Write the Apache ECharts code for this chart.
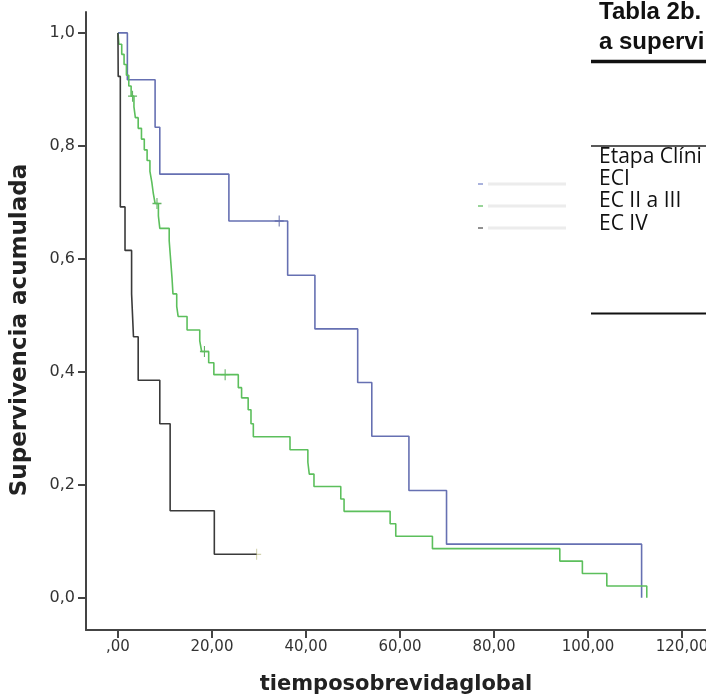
<!DOCTYPE html>
<html>
<head>
<meta charset="utf-8">
<script src="https://cdn.jsdelivr.net/npm/echarts@6/dist/echarts.min.js"></script>
<style>
  html, body { margin: 0; padding: 0; background: #fff; }
  #chart { width: 706px; height: 698px; }
</style>
</head>
<body>
<div id="chart"></div>
<script>
// tick labels
var xTicks = [0, 20, 40, 60, 80, 100, 120];
var yTicks = [0, 0.2, 0.4, 0.6, 0.8, 1.0];

// ECI
var ec1Time = [0, 2.0, 7.9, 8.9, 23.6, 36.1, 41.9, 51.0, 54.0, 61.9, 69.9, 111.4];
var ec1Surv = [1.0, 0.917, 0.833, 0.750, 0.667, 0.571, 0.476, 0.381, 0.286, 0.190, 0.095, 0.0];
var ec1CensorTime = [34.3];
var ec1CensorSurv = [0.667];

// EC II a III
var ec2Time = [0, 0.2, 0.8, 1.3, 1.8, 2.3, 2.8, 3.4, 3.7, 4.3, 5.0, 5.6, 6.2, 6.8, 7.2, 7.5, 7.9,
  8.6, 8.9, 10.9, 11.1, 11.3, 11.5, 11.7, 12.5, 12.8, 14.7, 17.4, 17.8, 19.3, 20.4, 25.6, 26.3,
  27.7, 28.3, 28.8, 36.6, 40.4, 40.7, 41.7, 47.4, 48.1, 57.9, 59.1, 66.9, 94.0, 98.8, 104.0, 112.5];
var ec2Surv = [1.0, 0.980, 0.962, 0.944, 0.925, 0.906, 0.888, 0.869, 0.850, 0.831, 0.812, 0.793, 0.774, 0.755, 0.736, 0.717, 0.698,
  0.676, 0.654, 0.632, 0.610, 0.588, 0.566, 0.538, 0.516, 0.498, 0.474, 0.455, 0.436, 0.416, 0.395, 0.372, 0.354,
  0.333, 0.308, 0.285, 0.262, 0.240, 0.219, 0.197, 0.175, 0.153, 0.131, 0.109, 0.087, 0.065, 0.043, 0.021, 0.0];
var ec2CensorTime = [3.1, 8.3, 18.4, 22.8];
var ec2CensorSurv = [0.888, 0.698, 0.436, 0.395];

// EC IV
var ec4Time = [0, 0.05, 0.5, 1.5, 2.9, 3.3, 4.3, 8.9, 11.1, 20.5, 29.5];
var ec4Surv = [1.0, 0.923, 0.692, 0.615, 0.538, 0.462, 0.385, 0.308, 0.154, 0.077, 0.077];
var ec4CensorTime = [29.5];
var ec4CensorSurv = [0.077];

function pairs(t, s) {
  var out = [];
  for (var i = 0; i < t.length; i++) out.push([t[i], s[i]]);
  return out;
}

var plus = 'path://M-0.12,-1H0.12V-0.12H1V0.12H0.12V1H-0.12V0.12H-1V-0.12H-0.12Z';

function kmLine(name, t, s, color) {
  return {
    name: name, type: 'line', step: 'end', data: pairs(t, s),
    showSymbol: false, silent: true, animation: false,
    lineStyle: { color: color, width: 1.6 }
  };
}
function censor(name, t, s, color) {
  return {
    name: name, type: 'scatter', data: pairs(t, s),
    symbol: plus, symbolSize: [9, 11], silent: true, animation: false,
    itemStyle: { color: color }
  };
}

var chart = echarts.init(document.getElementById('chart'));

var fmtX = function (v) {
  var s = v.toFixed(2).replace('.', ',');
  return v === 0 ? ',00' : s;
};
var fmtY = function (v) { return v.toFixed(1).replace('.', ','); };

chart.setOption({
  animation: false,
  grid: { left: 86, right: 0, top: 12, bottom: 68, outerBoundsMode: 'none', containLabel: false },
  xAxis: {
    type: 'value', min: -6.8, max: 125.1,
    name: 'tiemposobrevidaglobal', nameLocation: 'middle', nameGap: 44,
    nameTextStyle: { fontFamily: 'DejaVu Sans', fontWeight: 'bold', fontSize: 21, color: '#222' },
    axisLine: { show: true, onZero: false, lineStyle: { color: '#444', width: 2 } },
    axisTick: { show: true, length: 8, customValues: xTicks, lineStyle: { color: '#444', width: 2 } },
    axisLabel: { customValues: xTicks, formatter: fmtX, fontFamily: 'DejaVu Sans', fontSize: 15, color: '#333', margin: 10 },
    splitLine: { show: false }
  },
  yAxis: {
    type: 'value', min: -0.057, max: 1.037,
    axisLine: { show: true, onZero: false, lineStyle: { color: '#444', width: 2 } },
    axisTick: { show: true, length: 8, customValues: yTicks, lineStyle: { color: '#444', width: 2 } },
    axisLabel: { customValues: yTicks, formatter: fmtY, fontFamily: 'DejaVu Sans', fontSize: 16, color: '#333', margin: 11 },
    splitLine: { show: false }
  },
  series: [
    kmLine('ECI', ec1Time, ec1Surv, '#6670b2'),
    kmLine('EC II a III', ec2Time, ec2Surv, '#5cbf5c'),
    kmLine('EC IV', ec4Time, ec4Surv, '#3a3a3a'),
    censor('ECI censurado', ec1CensorTime, ec1CensorSurv, '#4a5599'),
    censor('EC II a III censurado', ec2CensorTime, ec2CensorSurv, '#3f9f3f'),
    censor('EC IV censurado', ec4CensorTime, ec4CensorSurv, '#c8c89a')
  ],
  graphic: [
    // y axis title
    { type: 'text', x: 20, y: 330, rotation: Math.PI / 2,
      style: { text: 'Supervivencia acumulada', font: 'bold 23px "DejaVu Sans"', fill: '#222', align: 'center', verticalAlign: 'middle' } },
    // table pasted next to the chart
    { type: 'text', left: 599, top: 0, style: { text: 'Tabla 2b.', font: 'bold 24px "Liberation Sans"', fill: '#111' } },
    { type: 'text', left: 599, top: 30, style: { text: 'a supervi', font: 'bold 24px "Liberation Sans"', fill: '#111' } },
    { type: 'line', shape: { x1: 591, y1: 61.5, x2: 706, y2: 61.5 }, style: { stroke: '#111', lineWidth: 3.5 } },
    { type: 'line', shape: { x1: 591, y1: 146, x2: 706, y2: 146 }, style: { stroke: '#222', lineWidth: 1.5 } },
    { type: 'text', left: 599, top: 147, style: { text: 'Etapa Clíni', font: '21px "Open Sans"', fill: '#111' } },
    { type: 'text', left: 599, top: 169, style: { text: 'ECI', font: '21px "Open Sans"', fill: '#111' } },
    { type: 'text', left: 599, top: 191, style: { text: 'EC II a III', font: '21px "Open Sans"', fill: '#111' } },
    { type: 'text', left: 599, top: 214, style: { text: 'EC IV', font: '21px "Open Sans"', fill: '#111' } },
    { type: 'line', shape: { x1: 591, y1: 313.5, x2: 706, y2: 313.5 }, style: { stroke: '#111', lineWidth: 2 } },
    { type: 'line', shape: { x1: 488, y1: 184, x2: 566, y2: 184 }, style: { stroke: '#ececec', lineWidth: 3 } },
    { type: 'line', shape: { x1: 488, y1: 206, x2: 566, y2: 206 }, style: { stroke: '#ececec', lineWidth: 3 } },
    { type: 'line', shape: { x1: 488, y1: 228, x2: 566, y2: 228 }, style: { stroke: '#ececec', lineWidth: 3 } },
    { type: 'line', shape: { x1: 478, y1: 184, x2: 483, y2: 184 }, style: { stroke: '#5566bb', lineWidth: 1 } },
    { type: 'line', shape: { x1: 478, y1: 206, x2: 483, y2: 206 }, style: { stroke: '#33aa33', lineWidth: 1 } },
    { type: 'line', shape: { x1: 478, y1: 228, x2: 483, y2: 228 }, style: { stroke: '#222', lineWidth: 1 } }
  ]
});
</script>
</body>
</html>
